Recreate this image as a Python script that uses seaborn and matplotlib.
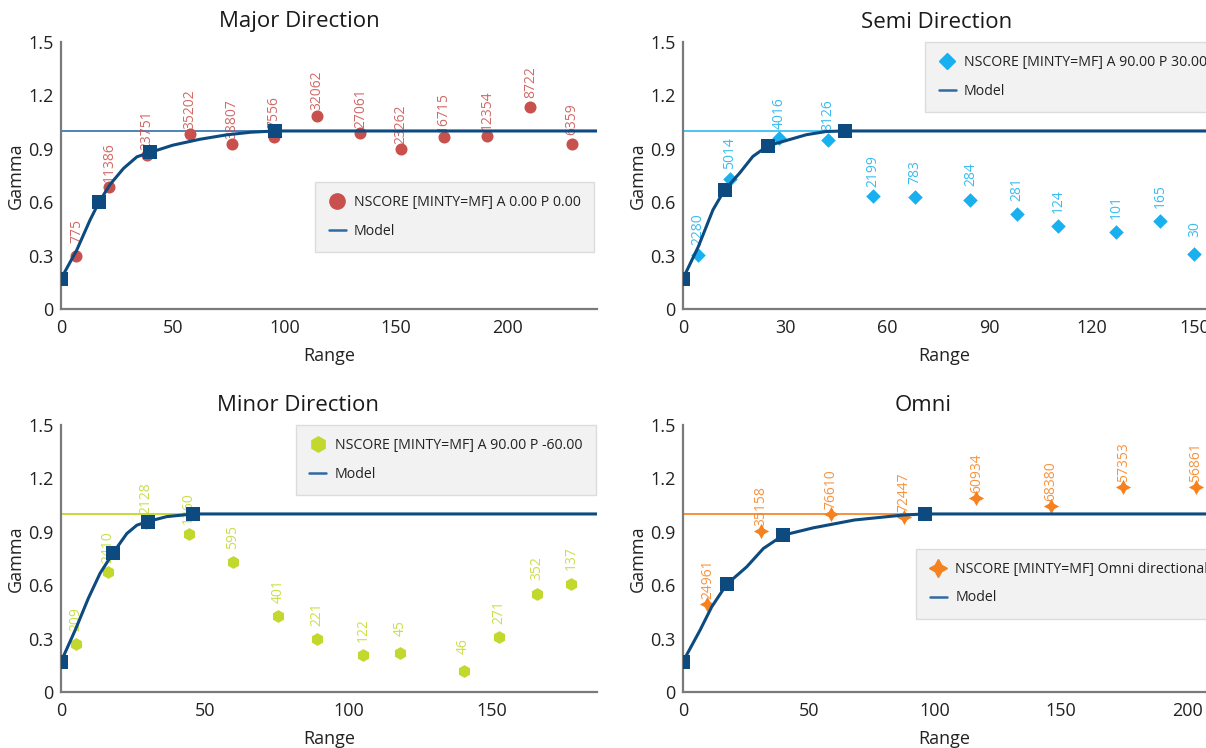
import matplotlib
matplotlib.use('Agg')
import matplotlib.pyplot as plt
import seaborn as sns
from matplotlib.lines import Line2D

sns.set_theme(style='white')
plt.rcParams['font.family'] = ['Open Sans', 'DejaVu Sans']

# ---- experimental variogram points (lag, gamma, pairs) ----
major_lag = [6.9, 21.4, 38.4, 57.6, 76.6, 95.3, 114.5, 134.1, 152.4, 171.4, 190.7, 210.2, 228.6]
major_gamma = [0.30, 0.686, 0.865, 0.981, 0.927, 0.968, 1.086, 0.99, 0.898, 0.968, 0.974, 1.133, 0.927]
major_pairs = ['775', '11386', '23751', '35202', '38807', '7556', '32062', '27061', '23262', '16715', '12354', '8722', '6359']

semi_lag = [4.5, 13.8, 28.3, 42.4, 55.6, 68.0, 84.3, 98.0, 110.1, 127.1, 139.9, 150.0]
semi_gamma = [0.306, 0.733, 0.962, 0.949, 0.635, 0.63, 0.615, 0.536, 0.466, 0.434, 0.494, 0.31]
semi_pairs = ['2280', '5014', '4016', '8126', '2199', '783', '284', '281', '124', '101', '165', '30']

minor_lag = [5.1, 16.4, 29.5, 44.4, 59.8, 75.6, 89.1, 105.2, 118.1, 140.1, 152.5, 165.5, 177.6]
minor_gamma = [0.268, 0.675, 0.95, 0.89, 0.731, 0.424, 0.296, 0.208, 0.219, 0.118, 0.311, 0.553, 0.609]
minor_pairs = ['209', '2410', '2128', '1360', '595', '401', '221', '122', '45', '46', '271', '352', '137']

omni_lag = [9.7, 31.1, 58.6, 87.5, 116.4, 146.0, 174.6, 203.5]
omni_gamma = [0.493, 0.906, 0.998, 0.984, 1.088, 1.044, 1.153, 1.149]
omni_pairs = ['24961', '35158', '76610', '72447', '60934', '68380', '57353', '56861']

# ---- fitted model curves ----
major_model_x = [0, 7, 13, 17, 22, 28, 34, 40, 50, 62, 74, 85, 96, 240]
major_model_y = [0.17, 0.33, 0.50, 0.60, 0.70, 0.79, 0.855, 0.88, 0.92, 0.953, 0.978, 0.993, 1.0, 1.0]
major_struct_x = [0, 17, 40, 96]
major_struct_y = [0.17, 0.60, 0.88, 1.0]

semi_model_x = [0, 4.5, 8.8, 12.2, 16.6, 20.5, 24.9, 29.3, 36.2, 42, 47.5, 153.4]
semi_model_y = [0.17, 0.35, 0.557, 0.669, 0.763, 0.857, 0.917, 0.941, 0.979, 0.997, 1.0, 1.0]
semi_struct_x = [0, 12.2, 24.9, 47.5]
semi_struct_y = [0.17, 0.669, 0.917, 1.0]

minor_model_x = [0, 5, 9.5, 13.6, 18.2, 22.9, 26.4, 30.1, 36.8, 46, 186.5]
minor_model_y = [0.17, 0.35, 0.526, 0.667, 0.783, 0.89, 0.937, 0.957, 0.985, 1.0, 1.0]
minor_struct_x = [0, 18.2, 30.1, 46]
minor_struct_y = [0.17, 0.783, 0.957, 1.0]

omni_model_x = [0, 6.7, 11.4, 17.3, 25.3, 31.9, 39.8, 51.7, 68, 87.5, 96, 207.5]
omni_model_y = [0.17, 0.345, 0.478, 0.604, 0.703, 0.806, 0.881, 0.922, 0.966, 0.994, 1.0, 1.0]
omni_struct_x = [0, 17.3, 39.8, 96]
omni_struct_y = [0.17, 0.604, 0.881, 1.0]

sill = 1.0
gamma_ticks = [0, 0.3, 0.6, 0.9, 1.2, 1.5]
gamma_ticklabels = ['0', '0.3', '0.6', '0.9', '1.2', '1.5']

MODEL_COLOR = '#0d4a80'


def plot_panel(ax, lag, gamma, pairs, color, marker, msize, legsize, sill_color,
               model_x, model_y, struct_x, struct_y, label, xmax, xticks, leg_anchor):
    ax.axhline(sill, color=sill_color, lw=1.4, zorder=1)
    sns.scatterplot(x=lag, y=gamma, color=color, marker=marker, s=msize,
                    linewidth=0, ax=ax, zorder=2, clip_on=False)
    for x, y, p in zip(lag, gamma, pairs):
        ax.annotate(p, (x, y), xytext=(0, 18), textcoords='offset points',
                    rotation=90, ha='center', va='center', fontsize=10,
                    color=color, alpha=0.85, zorder=3)
    sns.lineplot(x=model_x, y=model_y, color=MODEL_COLOR, lw=2.2, sort=False,
                 estimator=None, ax=ax, zorder=4)
    sns.scatterplot(x=struct_x, y=struct_y, color=MODEL_COLOR, marker='s', s=95,
                    linewidth=0, ax=ax, zorder=5)

    ax.set_xlim(0, xmax)
    ax.set_ylim(0, 1.5)
    ax.set_xticks(xticks)
    ax.set_yticks(gamma_ticks)
    ax.set_yticklabels(gamma_ticklabels)
    ax.set_xlabel('Range', fontsize=13, color='#222222', labelpad=7)
    ax.set_ylabel('Gamma', fontsize=13, color='#222222', labelpad=2)
    ax.tick_params(axis='both', labelsize=13, labelcolor='#222222', length=3.5,
                   width=1, direction='out', color='#aaaaaa')
    ax.tick_params(axis='x', pad=4)
    ax.tick_params(axis='y', pad=2)
    sns.despine(ax=ax)
    for side in ['left', 'bottom']:
        ax.spines[side].set_color('#7a7a7a')
        ax.spines[side].set_linewidth(1.6)

    handles = [
        Line2D([], [], marker=marker, color=color, ls='none', markersize=legsize),
        Line2D([], [], color='#2f6aa3', lw=1.8),
    ]
    leg = ax.legend(handles, [label, 'Model'], loc='upper left', bbox_to_anchor=leg_anchor,
                    borderaxespad=0, frameon=True, fancybox=False, framealpha=1,
                    facecolor='#f2f2f2', edgecolor='#dcdcdc', fontsize=10.2,
                    borderpad=0.95, labelspacing=0.95, handlelength=1.2, handletextpad=0.6)
    leg.get_frame().set_linewidth(1)
    for t in leg.get_texts():
        t.set_color('#222222')


fig = plt.figure(figsize=(12.06, 7.48), dpi=100)
ax_major = fig.add_axes([0.0506, 0.5869, 0.4444, 0.3570])
ax_semi = fig.add_axes([0.5663, 0.5869, 0.4337, 0.3570])
ax_minor = fig.add_axes([0.0506, 0.0749, 0.4444, 0.3570])
ax_omni = fig.add_axes([0.5663, 0.0749, 0.4337, 0.3570])

plot_panel(ax_major, major_lag, major_gamma, major_pairs, '#c8504d', 'o', 75, 11, '#4f83bb',
           major_model_x, major_model_y, major_struct_x, major_struct_y,
           'NSCORE [MINTY=MF] A 0.00 P 0.00', 240, [0, 50, 100, 150, 200], (0.474, 0.476))
plot_panel(ax_semi, semi_lag, semi_gamma, semi_pairs, '#18b0ee', 'D', 55, 8.5, '#4cc4f4',
           semi_model_x, semi_model_y, semi_struct_x, semi_struct_y,
           'NSCORE [MINTY=MF] A 90.00 P 30.00', 153.4, [0, 30, 60, 90, 120, 150], (0.463, 1.0))
plot_panel(ax_minor, minor_lag, minor_gamma, minor_pairs, '#c2d82c', 'h', 85, 11, '#c6db33',
           minor_model_x, minor_model_y, minor_struct_x, minor_struct_y,
           'NSCORE [MINTY=MF] A 90.00 P -60.00', 186.5, [0, 50, 100, 150], (0.438, 1.0))
plot_panel(ax_omni, omni_lag, omni_gamma, omni_pairs, '#f5821f', (4, 1, 0), 120, 13, '#f7923a',
           omni_model_x, omni_model_y, omni_struct_x, omni_struct_y,
           'NSCORE [MINTY=MF] Omni directional', 207.5, [0, 50, 100, 150, 200], (0.446, 0.537))

title_kw = dict(ha='center', va='center', fontsize=16, color='#1a1a1a')
fig.text(299 / 1206, 1 - 22 / 748, 'Major Direction', **title_kw)
fig.text(937 / 1206, 1 - 22 / 748, 'Semi Direction', **title_kw)
fig.text(298 / 1206, 1 - 405 / 748, 'Minor Direction', **title_kw)
fig.text(923 / 1206, 1 - 405 / 748, 'Omni', **title_kw)

fig.savefig('out.png', dpi=100)
